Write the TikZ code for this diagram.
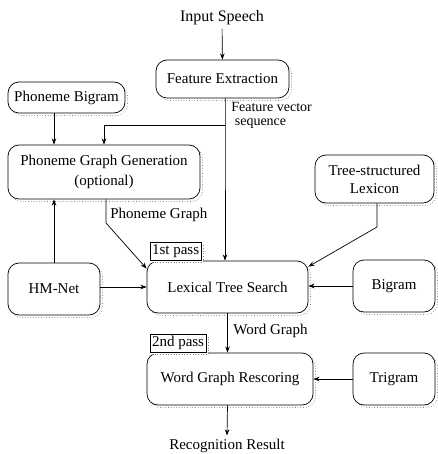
\documentclass[tikz,border=0pt]{standalone}
\usepackage{fontspec}
\setmainfont{Liberation Serif}
\usepackage{tikz}
\usetikzlibrary{arrows.meta, shadows}

\begin{document}
\begin{tikzpicture}[x=1pt, y=-1pt, line width=0.7pt,
        font=\fontsize{15}{18}\selectfont,
        blk/.style={draw, rounded corners=11pt, fill=white, inner sep=2pt,
            copy shadow={shadow xshift=2.5pt, shadow yshift=-2.5pt, draw=gray, dotted, fill=white}},
        tab/.style={draw, fill=white, inner sep=2pt, minimum height=18pt,
            copy shadow={shadow xshift=2pt, shadow yshift=-2pt, draw=gray, dotted, fill=white}},
        arr/.style={-{Stealth[length=2.2mm, width=1.6mm]}}]
        \useasboundingbox (0,0) rectangle (437,454);

        \coordinate (fv) at (225, 125);
        \coordinate (pg) at (106, 223);
        \coordinate (lx) at (377, 227);

        \node (inspeech) at (222, 18) {\fontsize{16}{18}\selectfont Input Speech};
        \node[blk, minimum width=133pt, minimum height=38pt] (featext) at (222.5, 79) {Feature Extraction};
        \node[blk, minimum width=117pt, minimum height=31pt] (phbigram) at (66.5, 97.5) {Phoneme Bigram};
        \node[blk, minimum width=192pt, minimum height=54pt, align=center,
            font=\fontsize{15}{20}\selectfont] (phgraph) at (104, 172) {Phoneme Graph Generation\\(optional)};
        \node[blk, minimum width=119pt, minimum height=48pt, align=center] (lexicon) at (374.5, 179) {Tree-structured\\Lexicon};
        \node[blk, minimum width=92pt, minimum height=52pt] (hmnet) at (54, 289) {HM-Net};
        \node[blk, minimum width=161pt, minimum height=52pt] (lts) at (227.5, 287) {Lexical Tree Search};
        \node[blk, minimum width=82pt, minimum height=52pt] (bigram) at (394, 286) {Bigram};
        \node[blk, minimum width=166pt, minimum height=52pt] (wgr) at (230, 379) {Word Graph Rescoring};
        \node[blk, minimum width=82pt, minimum height=52pt] (trigram) at (394, 379) {Trigram};
        \node (result) at (227, 446) {Recognition Result};

        % pass tabs
        \node[tab, anchor=south west] (pass1) at ([xshift=3pt]lts.north west) {1st pass};
        \node[tab, anchor=south west] (pass2) at ([xshift=3pt]wgr.north west) {2nd pass};

        % labels
        \node[anchor=north west, align=left, inner sep=0pt, font=\fontsize{14}{13.5}\selectfont] (fvlbl) at (231, 102) {Feature vector\\\ sequence};
        \node[anchor=west, inner sep=0pt] (pglbl) at (110, 215) {Phoneme Graph};
        \node[anchor=west, inner sep=0pt] (wglbl) at (233, 331) {Word Graph};

        % connectors
        \draw[arr] (inspeech) -- (featext);
        \draw[arr] (featext.south -| fv) -- (fv) -- (fv |- lts.north);
        \draw[arr] (fv) -| (phgraph.north);
        \draw[arr] (phbigram.south -| hmnet) -- (phgraph.north -| hmnet);
        \draw[arr] (hmnet.north) -- (hmnet.north |- phgraph.south);
        \draw[arr] (phgraph.south -| pg) -- (pg) -- ([yshift=-8pt]lts.north west);
        \draw[arr] (lexicon.south -| lx) -- (lx) -- ([yshift=-6pt]lts.north east);
        \draw[arr] (hmnet.east |- lts) -- (lts.west);
        \draw[arr] (bigram.west) -- (lts.east |- bigram);
        \draw[arr] (lts.south) -- (lts.south |- wgr.north);
        \draw[arr] (trigram.west) -- (wgr.east |- trigram);
        \draw[arr] (wgr.south -| lts) -- (result.north);
\end{tikzpicture}
\end{document}
